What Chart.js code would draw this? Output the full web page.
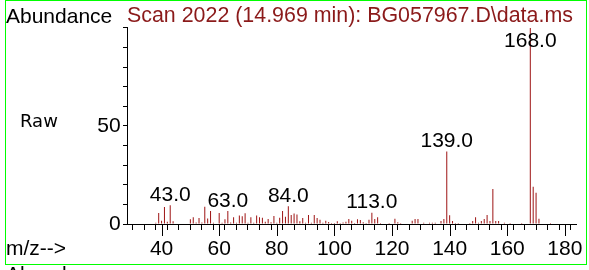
<!DOCTYPE html>
<html>
<head>
<meta charset="utf-8">
<script src="https://cdn.jsdelivr.net/npm/chart.js@4.4.1/dist/chart.umd.min.js"></script>
<style>
  html, body { margin: 0; padding: 0; background: #fff; }
  #wrap { position: relative; width: 589px; height: 270px; overflow: hidden; }
  canvas { position: absolute; left: 0; top: 0; }
  .txt { position: absolute; white-space: nowrap; font-family: "Liberation Sans", Arial, sans-serif; font-size: 21px; line-height: 21px; color: #000; }
  #frame { position: absolute; left: 5px; top: 0px; width: 582px; height: 265px; box-sizing: border-box; border: 1px solid #00ff00; pointer-events: none; }
</style>
</head>
<body>
<div id="wrap">
  <canvas id="c" width="589" height="270"></canvas>
  <div id="frame"></div>
  <div class="txt" style="left:6px; top:5px;">Abundance</div>
  <div class="txt" style="left:20px; top:111.5px; font-family:'DejaVu Sans', sans-serif; font-size:18px; line-height:18px;">Raw</div>
  <div class="txt" style="left:6px; top:237px;">m/z--&gt;</div>
  <div class="txt" style="left:6px; top:263px;">Abundance</div>
</div>
<script>
// ---- data ----
const titleText = 'Scan 2022 (14.969 min): BG057967.D\\data.ms';
const mzValues = [38,39,40,41,42,43,44,
  50,51,52,53,54,55,56,57,58,
  60,61,62,63,64,65,66,67,68,69,70,71,72,73,74,75,76,77,78,79,80,81,82,83,84,85,86,87,88,89,
  90,91,92,93,94,95,96,97,98,99,100,101,102,103,104,105,106,107,108,109,110,111,112,113,114,115,116,
  119,121,122,123,
  127,128,129,
  131,133,134,135,
  137,138,139,140,141,142,143,
  147,148,149,150,151,152,153,154,155,156,157,
  159,161,165,
  168,169,170,171,175];
const abundance = [0.6,5.6,1.6,8.7,1.2,9.6,1.4,
  2.4,3.4,0.8,3.0,0.8,8.8,2.8,6.6,0.6,
  5.6,0.6,2.4,6.6,0.8,3.4,0.6,4.3,4.0,5.5,0.6,3.4,0.6,4.3,3.5,3.2,1.2,2.6,0.9,4.1,0.6,3.2,6.6,3.7,9.0,4.6,5.4,4.8,1.4,3.0,
  0.6,4.6,0.6,4.6,3.0,2.2,0.6,1.7,1.0,0.5,0.5,1.4,0.5,0.8,1.2,2.6,1.6,0.5,2.4,2.0,0.9,0.5,2.2,5.8,2.6,3.4,0.5,
  0.5,2.7,0.9,0.5,
  1.7,2.6,2.6,
  0.6,0.6,0.6,0.6,
  1.5,2.6,37,4.5,1.5,0.5,0.5,
  0.5,1.5,3.5,0.6,1.5,2.5,4.6,1.5,17.9,1.5,1.5,
  0.6,0.5,0.5,
  100,19,16,2.7,0.5];
const labeledPeaks = [43, 63, 84, 113, 139, 168];
const xTickLabels = [40, 60, 80, 100, 120, 140, 160, 180];
const yTickLabels = [0, 50];

const FONT = '"Liberation Sans", Arial, sans-serif';
Chart.defaults.font.family = FONT;

const points = mzValues.map((m, i) => ({ x: m, y: abundance[i] }));

const peakLabelPlugin = {
  id: 'peakLabels',
  afterDatasetsDraw(chart) {
    const ctx = chart.ctx;
    const meta = chart.getDatasetMeta(0);
    ctx.save();
    ctx.font = '21px ' + FONT;
    ctx.fillStyle = '#000';
    ctx.textAlign = 'center';
    ctx.textBaseline = 'alphabetic';
    labeledPeaks.forEach(p => {
      const i = mzValues.indexOf(p);
      if (i < 0) return;
      const el = meta.data[i];
      const y = Math.max(el.y - 4.5, chart.chartArea.top + 19);
      ctx.fillText(p.toFixed(1), el.x, y);
    });
    ctx.restore();
  }
};

const majorTickPlugin = {
  id: 'majorTicks',
  afterDraw(chart) {
    const s = chart.scales.x;
    const ctx = chart.ctx;
    ctx.save();
    ctx.strokeStyle = '#000';
    ctx.lineWidth = 1;
    s.ticks.forEach(t => {
      if (xTickLabels.includes(t.value)) {
        const px = Math.round(s.getPixelForValue(t.value)) + 0.5;
        ctx.beginPath();
        ctx.moveTo(px, s.top);
        ctx.lineTo(px, s.top + 12);
        ctx.stroke();
      }
    });
    ctx.restore();
  }
};

new Chart(document.getElementById('c'), {
  type: 'bar',
  data: {
    datasets: [{
      data: points,
      backgroundColor: '#9e1414',
      borderWidth: 0,
      barThickness: 1,
      inflateAmount: 0
    }]
  },
  options: {
    responsive: false,
    animation: false,
    devicePixelRatio: 1,
    layout: { padding: { left: 0, right: 12.6, top: 0, bottom: 0 } },
    plugins: {
      legend: { display: false },
      tooltip: { enabled: false },
      title: {
        display: true,
        text: titleText,
        align: 'start',
        fullSize: false,
        color: '#8b1a1a',
        font: { size: 21.4, weight: 'normal', family: FONT, lineHeight: 1.1 },
        padding: { top: 4.45, bottom: 0 }
      }
    },
    scales: {
      x: {
        type: 'linear',
        min: 28,
        max: 184,
        offset: false,
        afterFit: s => { s.height = 46; },
        border: { display: true, color: '#000', width: 1 },
        grid: { display: true, drawOnChartArea: false, drawTicks: true, tickLength: 6, color: '#000' },
        ticks: {
          stepSize: 4,
          autoSkip: false,
          maxRotation: 0,
          padding: 6.7,
          color: '#000',
          font: { size: 21, family: FONT },
          callback: v => xTickLabels.includes(v) ? String(v) : ''
        }
      },
      y: {
        min: 0,
        max: 100,
        afterFit: s => { s.width = 127; },
        border: { display: true, color: '#000', width: 1 },
        grid: { display: true, drawOnChartArea: false, drawTicks: true, tickLength: 4, color: '#000' },
        ticks: {
          stepSize: 10,
          autoSkip: false,
          padding: 2.3,
          color: '#000',
          font: { size: 21, family: FONT },
          callback: v => yTickLabels.includes(v) ? String(v) : ''
        }
      }
    }
  },
  plugins: [peakLabelPlugin, majorTickPlugin]
});
</script>
</body>
</html>
